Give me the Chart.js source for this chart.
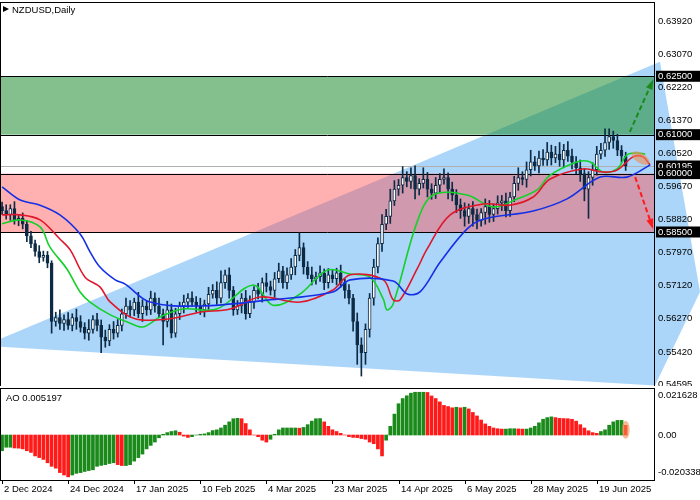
<!DOCTYPE html>
<html>
<head>
<meta charset="utf-8">
<script src="https://cdn.jsdelivr.net/npm/chart.js@4.4.1/dist/chart.umd.min.js"></script>
<style>
  body { margin: 0; background: #fff; }
  #wrapMain { position: absolute; left: 0; top: 0; width: 700px; height: 386px; }
  #wrapAo { position: absolute; left: 0; top: 386px; width: 700px; height: 114px; }
</style>
</head>
<body>
<div id="wrapMain"><canvas id="mainChart"></canvas></div>
<div id="wrapAo"><canvas id="aoChart"></canvas></div>
<script>
// ---------- DONNEES ----------
const closes = [
  0.5905,0.5895,0.5910,0.5880,0.5885,0.5870,
  0.5840,0.5820,0.5800,0.5785,0.5790,0.5770,
  0.5620,
  0.5630,0.5615,0.5625,0.5610,0.5630,0.5620,0.5605,0.5590,0.5600,0.5625,0.5610,0.5580,0.5570,0.5600,0.5590,
  0.5610,0.5640,0.5660,0.5650,0.5670,0.5640,0.5660,0.5650,0.5680,0.5660,0.5640,0.5620,0.5650,0.5590,0.5640,0.5660,0.5670,
  0.5680,0.5670,0.5660,0.5650,0.5665,0.5690,0.5700,0.5680,0.5720,0.5740,0.5700,0.5650,
  0.5660,0.5680,0.5640,0.5670,0.5700,0.5690,0.5720,0.5710,0.5700,0.5730,0.5750,0.5720,0.5740,0.5760,0.5790,0.5810,0.5760,
  0.5740,0.5730,0.5735,0.5745,0.5720,0.5740,0.5730,0.5745,0.5720,0.5700,0.5680,
  0.5620,0.5560,0.5540,0.5600,0.5680,
  0.5760,0.5820,0.5870,0.5890,0.5930,0.5960,0.5970,
  0.5990,0.5980,0.5995,0.5960,0.5975,0.5985,0.5960,0.5950,0.5970,0.5985,0.5990,0.5960,0.5945,0.5920,
  0.5905,0.5890,0.5910,0.5895,0.5880,0.5900,0.5915,0.5895,0.5910,0.5925,0.5930,0.5905,
  0.5940,0.5975,0.5990,0.5985,0.6010,0.6030,0.6020,0.6040,0.6035,
  0.6055,0.6040,0.6050,0.6035,0.6060,0.6045,0.6030,0.6015,0.6000,
  0.5960,0.5990,0.6010,
  0.6050,0.6060,0.6080,0.6095,0.6085,0.6060,0.6045,0.6020
];
const firstOpen = 0.5915;
// mèches en pips (0.0001)
const hiPips = [
  12,15,10,18,8,14,10,12,9,15,11,10,
  6,
  14,20,12,18,10,22,15,12,25,10,16,14,18,12,20,
  15,12,20,14,10,25,16,12,18,14,20,12,22,15,14,10,18,
  12,16,14,20,10,18,15,22,30,12,18,10,
  14,12,20,16,10,18,12,24,14,16,20,12,18,22,15,38,12,
  14,20,12,18,10,16,14,12,20,10,15,
  10,22,18,14,12,
  20,15,25,18,30,22,15,
  28,15,20,25,12,30,18,14,20,15,22,12,18,14,
  15,20,12,18,14,10,20,16,12,18,14,20,
  12,18,25,15,20,30,14,18,22,
  25,18,20,30,15,22,18,14,20,
  12,15,18,
  20,18,35,20,14,16,12,10
];
const loPips = [
  10,12,15,10,14,12,15,10,12,14,10,12,
  30,
  12,15,18,10,14,20,12,15,18,10,14,40,16,12,15,
  10,14,12,18,15,10,20,14,12,16,10,60,14,12,10,15,18,
  14,10,16,12,18,14,10,16,12,15,20,14,
  12,18,14,10,16,12,20,14,12,18,10,14,16,12,20,14,18,
  10,16,14,12,18,14,10,16,12,20,15,
  25,50,60,30,20,
  18,15,20,14,18,12,16,
  20,14,18,25,15,12,20,16,14,18,12,25,15,20,
  20,25,18,30,22,15,30,20,18,14,20,16,
  15,12,18,14,20,16,12,18,14,
  14,18,12,16,20,14,18,16,20,
  30,75,20,
  14,12,16,18,20,14,16,12
];

// Alligator (indice de bougie, prix)
const jawIdx = [0,4.4,9.2,14,18.9,21.3,23.7,27.4,29.8,35.8,47.9,64.2,80.1,84.3,94.7,98.1,101.2,106.1,112.6,116.5,128.6,136.8,144.8,151.3,156.9];
const jawVal = [0.5966,0.5932,0.5919,0.5894,0.5845,0.5799,0.5760,0.5727,0.5716,0.5670,0.5660,0.5675,0.5696,0.5727,0.5724,0.5691,0.5696,0.5773,0.5858,0.5883,0.5904,0.5935,0.5991,0.5991,0.6022];
const teethIdx = [0,4.4,9.2,14,16.5,20.1,23.7,26.2,32.2,40.7,47.9,55.2,62.5,72.2,80.1,84.3,92.3,94.7,96.4,100.5,102.9,108.5,116.5,123,128.6,132.7,140.7,145.5,148.9,152.8,155.2,156.9];
const teethVal = [0.5894,0.5894,0.5881,0.5832,0.5804,0.5734,0.5709,0.5670,0.5627,0.5627,0.5644,0.5652,0.5683,0.5670,0.5701,0.5740,0.5727,0.5676,0.5676,0.5755,0.5806,0.5894,0.5922,0.5919,0.5940,0.5986,0.6012,0.6004,0.6009,0.6043,0.6043,0.6022];
const lipsIdx = [0,4.4,9.2,11.6,15.7,18.9,21.3,26.2,30.3,34.1,38.3,43.8,52,60.8,65.6,72.2,78.7,84.3,89.1,92.3,93.2,94.7,100.5,104.4,112.6,118.9,124.7,129.5,132.7,139.2,142.4,145.5,148.9,151.3,153.7,155.7];
const lipsVal = [0.5871,0.5881,0.5863,0.5811,0.5755,0.5696,0.5670,0.5637,0.5619,0.5606,0.5632,0.5652,0.5652,0.5714,0.5662,0.5691,0.5752,0.5742,0.5734,0.5678,0.5650,0.5665,0.5876,0.5945,0.5945,0.5914,0.5935,0.5958,0.5996,0.6030,0.6030,0.6004,0.6012,0.6048,0.6053,0.6050];

// Awesome Oscillator
const aoValues = [
  -0.0085,-0.0066,-0.0066,-0.0070,-0.0071,-0.0075,
  -0.0085,-0.0094,-0.0113,-0.0122,-0.0132,-0.0150,-0.0169,-0.0179,-0.0203,
  -0.0216,-0.0226,-0.0216,
  -0.0207,-0.0203,-0.0197,-0.0192,-0.0188,
  -0.0169,-0.0164,-0.0160,-0.0154,-0.0150,-0.0160,
  -0.0165,-0.0165,-0.0160,
  -0.0141,-0.0122,-0.0103,-0.0075,-0.0056,-0.0038,-0.0015,
  0.0004,0.0013,0.0019,0.0023,0.0015,
  -0.0006,-0.0013,-0.0009,
  0.0000,0.0004,0.0006,0.0013,
  0.0024,0.0028,0.0038,0.0053,0.0071,
  0.0088,0.0090,0.0088,0.0062,
  0.0028,0.0000,-0.0009,
  -0.0028,-0.0038,-0.0023,
  0.0004,0.0028,0.0038,0.0038,
  0.0038,0.0038,0.0037,0.0041,0.0056,
  0.0075,0.0088,0.0089,
  0.0071,0.0047,0.0028,
  0.0019,0.0009,0.0000,-0.0009,-0.0013,
  -0.0014,-0.0019,-0.0023,-0.0038,
  -0.0047,-0.0075,-0.0113,-0.0028,0.0047,0.0113,
  0.0169,0.0197,0.0212,0.0226,0.0231,
  0.0231,0.0231,0.0230,0.0211,
  0.0197,0.0179,0.0160,0.0154,0.0147,0.0150,
  0.0147,0.0150,0.0141,0.0122,0.0103,
  0.0081,0.0060,0.0047,0.0038,0.0034,
  0.0032,0.0032,0.0034,0.0034,0.0033,0.0032,
  0.0032,0.0038,0.0047,0.0066,0.0085,0.0094,
  0.0098,0.0094,0.0090,0.0089,0.0088,
  0.0085,0.0075,0.0056,0.0038,0.0023,
  0.0013,0.0009,0.0019,0.0028,
  0.0053,0.0071,0.0079,0.0079,0.0052
];

const priceTicks = [0.63920,0.63070,0.62220,0.61370,0.60520,0.59670,0.58820,0.57970,0.57120,0.56270,0.55420,0.54595];
const markedLevels = [0.62500,0.61000,0.60195,0.60000,0.58500];
const aoTicks = [0.021628, 0, -0.020338];
const dateLabels = ["2 Dec 2024","24 Dec 2024","17 Jan 2025","10 Feb 2025","4 Mar 2025","23 Mar 2025","14 Apr 2025","6 May 2025","28 May 2025","19 Jun 2025"];
const dateIdx = [0,16,32,48,64,80,96,112,128,144];

// zones et triangle (indice, prix)
const greenZone = [0.6250, 0.6100];
const redZone = [0.6000, 0.5850];
const triIdx = [-0.5, 159.3, 169, 158.1, -0.5];
const triVal = [0.5575, 0.6287, 0.5696, 0.5456, 0.5555];
const lastPrice = 0.60195;

// ---------- CONSTRUCTION ----------
const X_MIN = -0.5, X_MAX = 158.1;
const FAMILY = 'Liberation Sans';
const FONT = '9.5px "Liberation Sans"';
const DARK = '#0d2b45';

const opens = closes.map((c, i) => i === 0 ? firstOpen : closes[i - 1]);
const bodies = closes.map((c, i) => ({ x: i, y: [opens[i], c] }));
const wicks = closes.map((c, i) => ({
  x: i,
  y: [Math.min(opens[i], c) - (loPips[i] || 10) / 10000, Math.max(opens[i], c) + (hiPips[i] || 10) / 10000]
}));
const bodyFill = closes.map((c, i) => c >= opens[i] ? '#ffffff' : DARK);
const pts = (xs, ys) => xs.map((x, i) => ({ x: x, y: ys[i] }));

const lineDs = (label, data, color) => ({
  type: 'line', label, data, borderColor: color, borderWidth: 1.6,
  pointRadius: 0, tension: 0.35, order: 0
});

const yAxis = (min, max, ticks, fmt) => ({
  position: 'right', min, max,
  grid: { display: false, drawTicks: false, tickLength: 0 }, border: { display: false },
  afterBuildTicks: s => { s.ticks = ticks.map(v => ({ value: v })); },
  afterFit: s => { s.width = 45; s.paddingTop = 0; s.paddingBottom = 0; },
  ticks: { color: '#000', font: { family: FAMILY, size: 9.5 }, padding: 3, autoSkip: false, callback: fmt }
});

const mainPlugin = {
  id: 'mainDeco',
  beforeDraw(chart) {
    const { ctx, chartArea: a, scales: { x, y } } = chart;
    ctx.save();
    ctx.fillStyle = '#fff';
    ctx.fillRect(0, 0, chart.width, chart.height);
    // triangle bleu
    ctx.beginPath();
    triIdx.forEach((t, i) => {
      const px = x.getPixelForValue(t), py = y.getPixelForValue(triVal[i]);
      i ? ctx.lineTo(px, py) : ctx.moveTo(px, py);
    });
    ctx.closePath();
    ctx.fillStyle = '#acd6f9';
    ctx.fill();
    // zones
    const zone = (z, col) => {
      const y1 = y.getPixelForValue(z[0]), y2 = y.getPixelForValue(z[1]);
      ctx.fillStyle = col;
      ctx.fillRect(a.left, y1, a.right - a.left, y2 - y1);
      ctx.strokeStyle = '#000';
      ctx.lineWidth = 1;
      [y1, y2].forEach(v => {
        ctx.beginPath(); ctx.moveTo(a.left, Math.round(v) + 0.5); ctx.lineTo(a.right, Math.round(v) + 0.5); ctx.stroke();
      });
    };
    zone(greenZone, 'rgba(30,140,50,0.55)');
    zone(redZone, 'rgba(255,80,80,0.45)');
    const yl = Math.round(y.getPixelForValue(lastPrice)) + 0.5;
    ctx.strokeStyle = '#b0b0b0';
    ctx.beginPath(); ctx.moveTo(a.left, yl); ctx.lineTo(a.right, yl); ctx.stroke();
    ctx.restore();
  },
  afterDraw(chart) {
    const { ctx, chartArea: a, scales: { x, y } } = chart;
    ctx.save();
    // flèches
    const arrow = (x0, p0, x1, p1, col) => {
      const ax = x.getPixelForValue(x0), ay = y.getPixelForValue(p0);
      const bx = x.getPixelForValue(x1), by = y.getPixelForValue(p1);
      ctx.strokeStyle = col; ctx.fillStyle = col; ctx.lineWidth = 2;
      ctx.setLineDash([5, 3]);
      ctx.beginPath(); ctx.moveTo(ax, ay); ctx.lineTo(bx, by); ctx.stroke();
      ctx.setLineDash([]);
      const ang = Math.atan2(by - ay, bx - ax);
      ctx.beginPath();
      ctx.moveTo(bx + 3 * Math.cos(ang), by + 3 * Math.sin(ang));
      ctx.lineTo(bx - 8 * Math.cos(ang - 0.45), by - 8 * Math.sin(ang - 0.45));
      ctx.lineTo(bx - 8 * Math.cos(ang + 0.45), by - 8 * Math.sin(ang + 0.45));
      ctx.closePath(); ctx.fill();
    };
    arrow(152, 0.6107, 157.4, 0.6235, '#1a8a1a');
    arrow(153.3, 0.5991, 157.4, 0.5865, '#ff1a1a');
    // ellipse orange
    ctx.fillStyle = 'rgba(240,140,80,0.6)';
    ctx.beginPath();
    ctx.ellipse(x.getPixelForValue(154.6), y.getPixelForValue(0.6040), 10, 5, 0.55, 0, Math.PI * 2);
    ctx.fill();
    // cadre
    ctx.strokeStyle = '#000'; ctx.lineWidth = 1;
    ctx.strokeRect(a.left + 0.5, a.top + 0.5, a.right - a.left - 1, a.bottom - a.top);
    // étiquettes noires
    ctx.font = FONT; ctx.textBaseline = 'middle';
    markedLevels.forEach(v => {
      const py = y.getPixelForValue(v);
      ctx.fillStyle = '#000';
      ctx.fillRect(a.right + 1, py - 5.5, chart.width - a.right - 1, 11);
      ctx.fillStyle = '#fff';
      ctx.fillText(v.toFixed(5), a.right + 3, py);
    });
    // titre
    ctx.fillStyle = '#000';
    ctx.beginPath(); ctx.moveTo(3, 6); ctx.lineTo(9, 9); ctx.lineTo(3, 12); ctx.closePath(); ctx.fill();
    ctx.fillText('NZDUSD,Daily', 12, 10);
    ctx.restore();
  }
};

new Chart(document.getElementById('mainChart'), {
  type: 'bar',
  data: {
    datasets: [
      lineDs('Jaw', pts(jawIdx, jawVal), '#1430e6'),
      lineDs('Teeth', pts(teethIdx, teethVal), '#e0162a'),
      lineDs('Lips', pts(lipsIdx, lipsVal), '#14d02a'),
      { label: 'wick', data: wicks, backgroundColor: DARK, barThickness: 1, grouped: false, order: 2 },
      { label: 'body', data: bodies, backgroundColor: bodyFill, borderColor: DARK, borderWidth: 1,
        borderSkipped: false, barThickness: 3, grouped: false, order: 1 }
    ]
  },
  options: {
    responsive: true, maintainAspectRatio: false, animation: false,
    layout: { padding: { top: 2, left: 0, bottom: 0, right: 0 } },
    plugins: { legend: { display: false }, tooltip: { enabled: false } },
    scales: {
      x: { type: 'linear', offset: false, min: X_MIN, max: X_MAX, display: false },
      y: yAxis(0.54544, 0.64408, priceTicks, v => v.toFixed(5))
    }
  },
  plugins: [mainPlugin]
});

// ---------- AO ----------
const aoColors = aoValues.map((v, i) => i > 0 && v < aoValues[i - 1] ? '#ff1a1a' : '#1a8a1a');
const aoPlugin = {
  id: 'aoDeco',
  afterDraw(chart) {
    const { ctx, chartArea: a, scales: { x, y } } = chart;
    ctx.save();
    ctx.fillStyle = 'rgba(240,140,80,0.6)';
    ctx.beginPath();
    ctx.ellipse(x.getPixelForValue(151), y.getPixelForValue(0.0028), 4, 9, 0, 0, Math.PI * 2);
    ctx.fill();
    ctx.strokeStyle = '#000'; ctx.lineWidth = 1;
    ctx.strokeRect(a.left + 0.5, a.top + 0.5, a.right - a.left - 1, a.bottom - a.top);
    ctx.font = FONT; ctx.fillStyle = '#000'; ctx.textBaseline = 'middle';
    ctx.fillText('AO 0.005197', 6, a.top + 10);
    dateLabels.forEach((t, i) => {
      const px = Math.round(x.getPixelForValue(dateIdx[i]));
      ctx.beginPath(); ctx.moveTo(px + 0.5, a.bottom); ctx.lineTo(px + 0.5, a.bottom + 4); ctx.stroke();
      ctx.fillText(t, px + 2, a.bottom + 9);
    });
    ctx.restore();
  }
};

new Chart(document.getElementById('aoChart'), {
  type: 'bar',
  data: {
    datasets: [{ data: aoValues.map((v, i) => ({ x: i, y: v })), backgroundColor: aoColors, barThickness: 3 }]
  },
  options: {
    responsive: true, maintainAspectRatio: false, animation: false,
    layout: { padding: { top: 2, bottom: 20 } },
    plugins: { legend: { display: false }, tooltip: { enabled: false } },
    scales: {
      x: { type: 'linear', offset: false, min: X_MIN, max: X_MAX, display: false },
      y: yAxis(-0.0243, 0.0254, aoTicks, v => v === 0 ? '0.00' : v.toFixed(6))
    }
  },
  plugins: [aoPlugin]
});
</script>
</body>
</html>
